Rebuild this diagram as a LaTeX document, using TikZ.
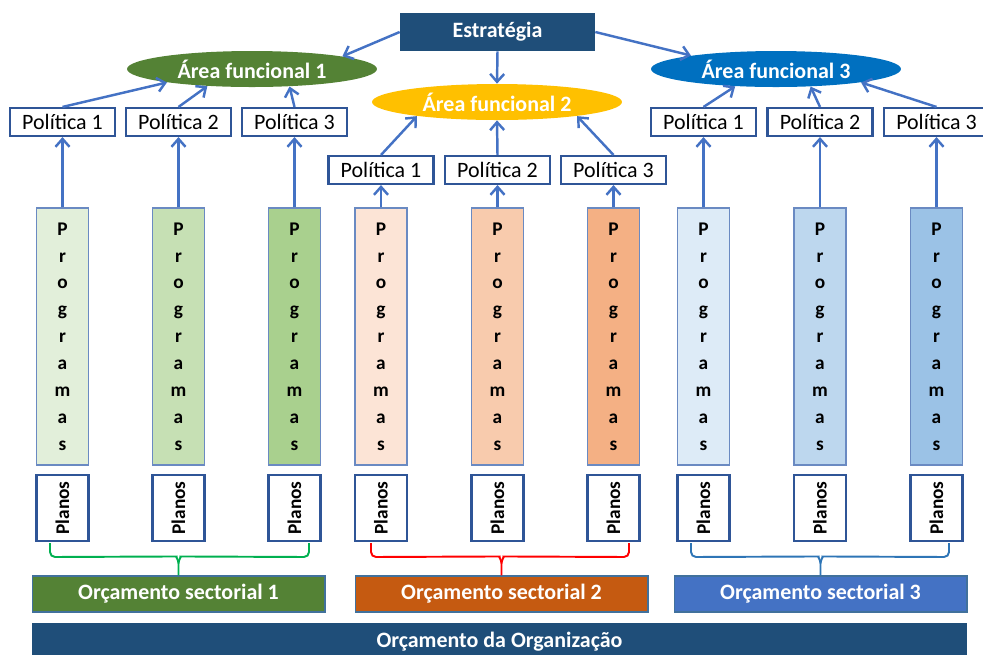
\documentclass[tikz,border=0pt]{standalone}
\usepackage{fontspec}
\setmainfont{Carlito}
\usetikzlibrary{shapes.geometric,arrows.meta,calc}

\definecolor{strblue}{HTML}{1F4E79}
\definecolor{areaone}{HTML}{548235}
\definecolor{areatwo}{HTML}{FFC000}
\definecolor{areathree}{HTML}{0070C0}
\definecolor{arrowblue}{HTML}{4472C4}
\definecolor{polline}{HTML}{2F5597}
\definecolor{progline}{HTML}{6A8AC2}
\definecolor{orcline}{HTML}{41719C}
\definecolor{prog11}{HTML}{E2EFDA}
\definecolor{prog12}{HTML}{C6E0B4}
\definecolor{prog13}{HTML}{A9D08E}
\definecolor{prog21}{HTML}{FCE4D6}
\definecolor{prog22}{HTML}{F8CBAD}
\definecolor{prog23}{HTML}{F4B084}
\definecolor{prog31}{HTML}{DDEBF7}
\definecolor{prog32}{HTML}{BDD7EE}
\definecolor{prog33}{HTML}{9BC2E6}
\definecolor{orcone}{HTML}{548235}
\definecolor{orctwo}{HTML}{C55A11}
\definecolor{orcthree}{HTML}{4472C4}
\definecolor{brcgreen}{HTML}{00B050}
\definecolor{brcred}{HTML}{FF0000}
\definecolor{brcblue}{HTML}{2E75B6}

\tikzset{
  pol/.style={draw=polline, line width=1.2pt, fill=white, minimum width=2.1cm,
    minimum height=0.56cm, inner sep=0pt, font=\fontsize{12.5}{15}\selectfont},
  prog/.style={draw=progline, line width=0.7pt, minimum width=1.04cm,
    minimum height=5.14cm, inner sep=0pt, align=center,
    font=\bfseries\fontsize{11}{15.3}\selectfont},
  plano/.style={draw=polline, line width=1.2pt, fill=white, minimum width=1.04cm,
    minimum height=1.32cm, inner sep=0pt, font=\bfseries\fontsize{11}{13}\selectfont},
  area/.style={ellipse, minimum width=5cm, minimum height=0.72cm, inner sep=0pt,
    text=white, font=\bfseries\fontsize{12.5}{15}\selectfont},
  orc/.style={draw=orcline, line width=0.6pt, minimum width=5.86cm,
    minimum height=0.72cm, inner sep=0pt, text=white,
    font=\bfseries\fontsize{12.5}{15}\selectfont},
  seta/.style={draw=arrowblue, line width=1.4pt, -{Straight Barb[length=4.5pt,width=8pt]}},
  brc/.style={line width=1.1pt},
}

\begin{document}
\begin{tikzpicture}[x=0.02cm, y=-0.02cm]
\useasboundingbox (0,0) rectangle (983,654);

% estrategia e areas funcionais
\node[fill=strblue, text=white, minimum width=3.9cm, minimum height=0.76cm, inner sep=0pt,
  font=\bfseries\fontsize{12.5}{15}\selectfont] (str) at (497.5,32) {Estratégia};
\node[area, fill=areaone] (af1) at (252,69) {Área funcional 1};
\node[area, fill=areatwo] (af2) at (497,102) {Área funcional 2};
\node[area, fill=areathree] (af3) at (776,69) {Área funcional 3};
 \draw[seta] (str.west) -- (af1.8);
 \draw[seta] (str.south) -- (af2.north);
 \draw[seta] (str.east) -- (af3.171);

% politicas, programas e planos
\foreach \g/\y/\xa/\xb/\xc in {1/122/62.5/178.5/294.5, 2/170/381/497.5/613.5, 3/122/703.5/820/936.5} {
  \foreach \i/\x in {1/\xa, 2/\xb, 3/\xc} {
    \node[pol] (pol\g\i) at (\x,\y) {Política \i};
    \node[prog, fill=prog\g\i] (prog\g\i) at (\x,336.5) {P\\r\\o\\g\\r\\a\\m\\a\\s};
    \node[plano] (pl\g\i) at (\x,508) {\rotatebox{90}{Planos}};
    \draw[seta] (prog\g\i.north) -- (pol\g\i.south);
  }
}
\foreach \g/\i/\a in {1/1/189, 1/2/201, 1/3/335, 2/1/190, 2/2/270, 2/3/350, 3/1/203, 3/2/333, 3/3/351}
 \draw[seta] (pol\g\i.north) -- (af\g.\a);

% orcamentos
\node[orc, fill=orcone] (os1) at (178.5,594) {Orçamento sectorial 1};
\node[orc, fill=orctwo] (os2) at (501.5,594) {Orçamento sectorial 2};
\node[orc, fill=orcthree] (os3) at (820.5,594) {Orçamento sectorial 3};
\node[fill=strblue, text=white, minimum width=18.7cm, minimum height=0.74cm, inner sep=0pt,
  font=\bfseries\fontsize{12.5}{15}\selectfont] (org) at (499.5,641.5) {Orçamento da Organização};

% chavetas
\foreach \g/\L/\R/\c in {1/50/309/brcgreen, 2/371/629/brcred, 3/691/949/brcblue} {
 \draw[brc, \c] (\L,543) [rounded corners=0.1cm] -- (\L,557) -- ($(os\g.north)+(-7,-19)$)
   [sharp corners] to[out=0,in=90] ($(os\g.north)+(0,-12)$) -- (os\g.north);
 \draw[brc, \c] (\R,543) [rounded corners=0.1cm] -- (\R,557) -- ($(os\g.north)+(7,-19)$)
   [sharp corners] to[out=180,in=90] ($(os\g.north)+(0,-12)$);
}
\end{tikzpicture}
\end{document}
